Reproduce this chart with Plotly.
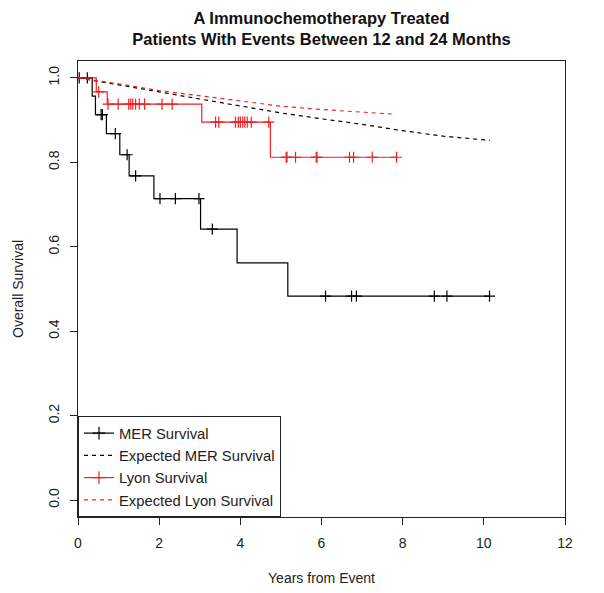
import plotly.graph_objects as go

# ---- data ----
mer_event_t = [0.35, 0.43, 0.70, 1.03, 1.26, 1.87, 3.02, 3.92, 5.17]
mer_event_s = [0.957, 0.913, 0.868, 0.818, 0.768, 0.714, 0.642, 0.562, 0.483]
mer_censor_t = [0.03, 0.23, 0.57, 0.60, 0.92, 1.21, 1.42, 2.02, 2.40, 2.98,
                3.31, 6.10, 6.74, 6.86, 8.78, 9.09, 10.14]

lyon_event_t = [0.45, 0.72, 3.05, 4.74]
lyon_event_s = [0.967, 0.938, 0.895, 0.812]
lyon_censor_t = [0.51, 0.74, 0.99, 1.25, 1.30, 1.35, 1.42, 1.51, 1.64, 2.07,
                 2.32, 3.39, 3.47, 3.88, 3.95, 4.00, 4.06, 4.11, 4.17, 4.27,
                 4.70, 5.13, 5.15, 5.36, 5.87, 5.89, 6.69, 6.79, 7.25, 7.85]

exp_mer_t = [0, 1, 2, 3, 4, 5, 6, 7, 8, 9, 10.15]
exp_mer_s = [1.0, 0.984, 0.967, 0.950, 0.933, 0.917, 0.903, 0.890, 0.875, 0.862, 0.852]

exp_lyon_t = [0, 1, 2, 3, 4, 5, 6, 7, 7.8]
exp_lyon_s = [1.0, 0.986, 0.970, 0.958, 0.945, 0.933, 0.925, 0.918, 0.914]

x_ticks = [0, 2, 4, 6, 8, 10, 12]
y_ticks = [0.0, 0.2, 0.4, 0.6, 0.8, 1.0]
y_tick_labels = ["0.0", "0.2", "0.4", "0.6", "0.8", "1.0"]

title_text = "A Immunochemotherapy Treated<br>Patients With Events Between 12 and 24 Months"
FONT = "Liberation Sans, Arial, Helvetica, sans-serif"
BLACK = "#000000"
RED = "#f02020"
TXT = "#222222"


def km_path(ev_t, ev_s, cens_t):
    end = max(max(ev_t), max(cens_t))
    xs = [0] + list(ev_t) + [end]
    ys = [1.0] + list(ev_s) + [ev_s[-1]]
    return xs, ys


def surv_at(t, ev_t, ev_s):
    s = 1.0
    for et, es in zip(ev_t, ev_s):
        if et <= t:
            s = es
    return s


fig = go.Figure()


def add_group(name, ev_t, ev_s, cens_t, color):
    xs, ys = km_path(ev_t, ev_s, cens_t)
    fig.add_trace(go.Scatter(x=xs, y=ys, mode="lines", line=dict(color=color, width=1.2, shape="hv"),
                             showlegend=False, hoverinfo="skip"))
    fig.add_trace(go.Scatter(x=cens_t, y=[surv_at(t, ev_t, ev_s) for t in cens_t], mode="markers",
                             marker=dict(symbol="cross-thin", size=8, line=dict(color=color, width=1.2)),
                             showlegend=False))
    fig.add_trace(go.Scatter(x=[None], y=[None], mode="lines+markers", name=name,
                             line=dict(color=color, width=1.2),
                             marker=dict(symbol="cross-thin", size=9, line=dict(color=color, width=1.2))))


add_group("MER Survival", mer_event_t, mer_event_s, mer_censor_t, BLACK)
fig.add_trace(go.Scatter(x=exp_mer_t, y=exp_mer_s, mode="lines", name="Expected MER Survival",
                         line=dict(color=BLACK, width=1.2, dash="4px,4px")))
add_group("Lyon Survival", lyon_event_t, lyon_event_s, lyon_censor_t, RED)
fig.add_trace(go.Scatter(x=exp_lyon_t, y=exp_lyon_s, mode="lines", name="Expected Lyon Survival",
                         line=dict(color=RED, width=1.2, dash="4px,4px")))

fig.update_layout(
    width=604, height=593,
    margin=dict(l=70, r=47, t=53, b=84, autoexpand=False),
    paper_bgcolor="white", plot_bgcolor="white",
    font=dict(family=FONT, size=14, color=TXT),
    title=dict(text="<b>" + title_text + "</b>", x=0.5, xref="paper", xanchor="center",
               y=1 - 16 / 593, yref="container", yanchor="top",
               font=dict(family=FONT, size=16.5, color="#111111")),
    showlegend=True,
    legend=dict(x=0, y=0, xanchor="left", yanchor="bottom", bgcolor="white",
                bordercolor=TXT, borderwidth=1, traceorder="normal",
                font=dict(family=FONT, size=14.8, color=TXT), itemwidth=30),
    xaxis=dict(range=[0, 12], tickmode="array", tickvals=x_ticks, ticks="outside", ticklen=7,
               tickcolor=TXT, showgrid=False, zeroline=False, showline=True, linecolor=TXT,
               linewidth=1, mirror=True, ticklabelstandoff=6,
               title=dict(text="Years from Event", standoff=23, font=dict(size=14))),
    yaxis=dict(range=[-0.04, 1.04], tickmode="array", tickvals=y_ticks, ticktext=y_tick_labels,
               ticks="outside", ticklen=7, tickcolor=TXT, showgrid=False, zeroline=False,
               showline=True, linecolor=TXT, linewidth=1, mirror=True, tickangle=-90,
               ticklabelstandoff=5,
               title=dict(text="Overall Survival", standoff=19, font=dict(size=14))),
)

fig.write_html("out.html")
